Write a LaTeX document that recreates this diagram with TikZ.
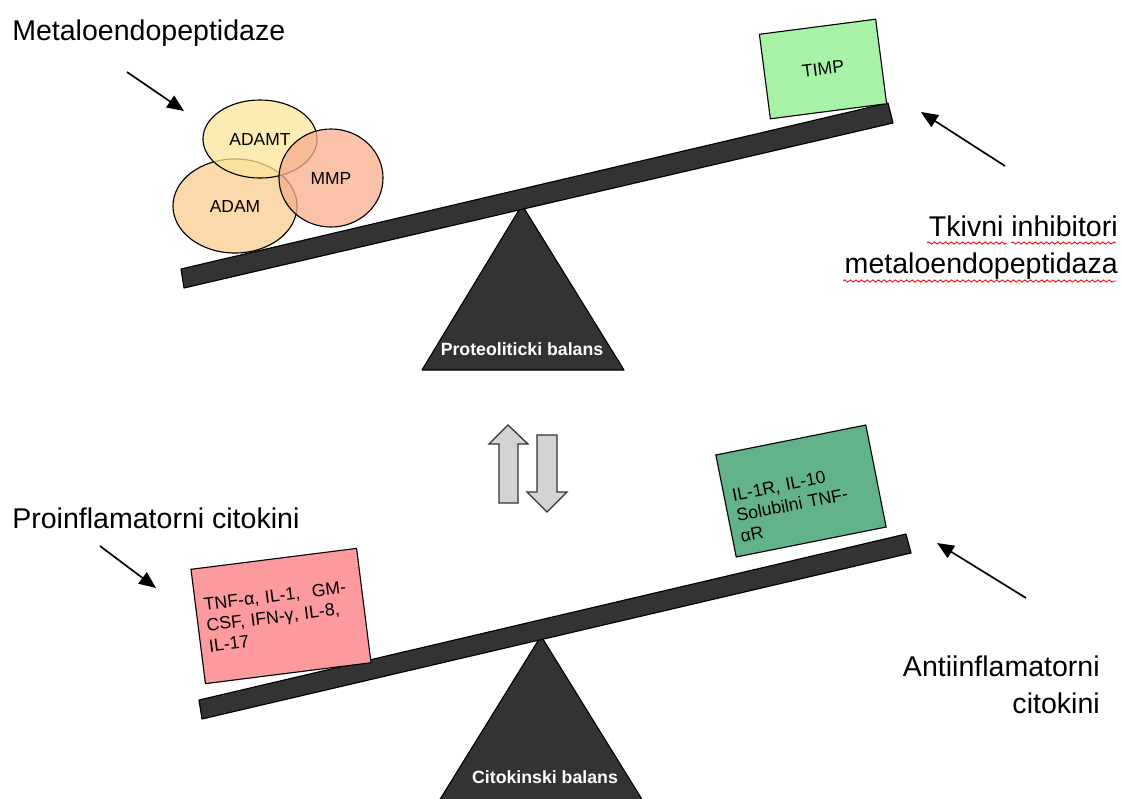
\documentclass[tikz,border=0pt]{standalone}
\usepackage{fontspec}
\setmainfont{Liberation Sans}
\usetikzlibrary{shapes.geometric,arrows.meta,decorations.pathmorphing}
\definecolor{beamgray}{HTML}{333333}
\definecolor{adamtyellow}{HTML}{FBE49A}
\definecolor{adamorange}{HTML}{F9CC8E}
\definecolor{mmpsalmon}{HTML}{F7AE8C}
\definecolor{timpgreen}{HTML}{A8F2A8}
\definecolor{antigreen}{HTML}{62B488}
\definecolor{propink}{HTML}{FC9A9E}
\definecolor{arrowgray}{HTML}{D3D3D3}
\begin{document}
\begin{tikzpicture}[x=0.025cm, y=-0.025cm,
    bigtext/.style={font=\fontsize{20.3}{26.3}\selectfont, inner sep=0},
    enzyme/.style={draw, ellipse, inner sep=0, fill opacity=0.75, text opacity=1, line width=0.8pt, font=\fontsize{12.4}{14.5}\selectfont},
    inhibbox/.style={draw, rectangle, line width=0.8pt, font=\fontsize{12.6}{14.8}\selectfont},
    beam/.style={draw=black, fill=beamgray, line width=0.8pt, line join=round},
    balanstext/.style={text=white, font=\bfseries\fontsize{12.6}{14.5}\selectfont},
    pointer/.style={-{Triangle[length=12pt,width=10pt]}, line width=1.2pt},
    squiggle/.style={red, line width=0.6pt, decorate, decoration={snake, amplitude=0.8pt, segment length=4pt}},
    flowarrow/.style={draw=beamgray, fill=arrowgray, line width=0.9pt, line join=miter}]
\useasboundingbox (0,0) rectangle (1122,798);

% proteoliticki balans
\draw[beam] (522,205) -- (624,370) -- (422,370) -- cycle;
\draw[beam] (181,269) -- (888,103) -- (893,123) -- (184,288) -- cycle;
\node[balanstext] (protbal) at (522,349) {Proteoliticki balans};

\node[enzyme, fill=adamorange, minimum width=3.1cm, minimum height=2.35cm] (adam) at (235,206) {ADAM};
\node[enzyme, fill=adamtyellow, minimum width=2.85cm, minimum height=1.95cm] (adamt) at (260,139) {ADAMT};
\node[enzyme, fill=mmpsalmon, minimum width=2.6cm, minimum height=2.45cm] (mmp) at (331,178) {MMP};

\node[inhibbox, fill=timpgreen, inner sep=0, minimum width=2.93cm, minimum height=2.13cm, rotate=7.4] (timp) at (823,69) {TIMP};

\node[bigtext, anchor=base west] (metalo) at (12,40) {Metaloendopeptidaze};
\node[bigtext, anchor=north east, align=right] (tkivni) at (1118,216) {Tkivni inhibitori\\metaloendopeptidaza};
\draw[squiggle] (927,243) -- (1007,243);
\draw[squiggle] (1011,243) -- (1116,243);
\draw[squiggle] (843,281) -- (1116,281);

\coordinate (metalostart) at (127,72);
\coordinate (metaloend) at (184,111);
\coordinate (tkivnistart) at (1005,166);
\coordinate (tkivniend) at (921,112);
\draw[pointer] (metalostart) -- (metaloend);
\draw[pointer] (tkivnistart) -- (tkivniend);

% strelice
\draw[flowarrow] (499,503) -- (499,444) -- (489,444) -- (508,425) -- (528,444) -- (518,444) -- (518,503) -- cycle;
\draw[flowarrow] (537,435) -- (557,435) -- (557,492) -- (567,492) -- (547,512) -- (527,492) -- (537,492) -- cycle;

% citokinski balans
\draw[beam] (541,636) -- (643,801) -- (439,801) -- cycle;
\draw[beam] (199,700) -- (906,534) -- (911,553) -- (202,719) -- cycle;
\node[balanstext] (citobal) at (545,777) {Citokinski balans};

\node[inhibbox, fill=propink, inner xsep=6pt, text width=3.75cm, align=left, minimum height=2.88cm, rotate=7.2] (proinf) at (281,616) {TNF-α, IL-1,\ \ GM-\\CSF, IFN-γ, IL-8,\\IL-17};
\node[inhibbox, fill=antigreen, inner xsep=6pt, text width=3.4cm, text height=0.9cm, align=left, minimum height=2.6cm, rotate=11.3] (antiinf) at (801,491) {IL-1R, IL-10\\Solubilni TNF-\\αR};

\node[bigtext, anchor=base west] (proinflab) at (12,528) {Proinflamatorni citokini};
\node[bigtext, anchor=north east, align=right] (antiinflab) at (1100,656) {Antiinflamatorni\\citokini};

\coordinate (proinfstart) at (100,546);
\coordinate (proinfend) at (156,588);
\coordinate (antiinfstart) at (1026,598);
\coordinate (antiinfend) at (937,543);
\draw[pointer] (proinfstart) -- (proinfend);
\draw[pointer] (antiinfstart) -- (antiinfend);
\end{tikzpicture}
\end{document}
